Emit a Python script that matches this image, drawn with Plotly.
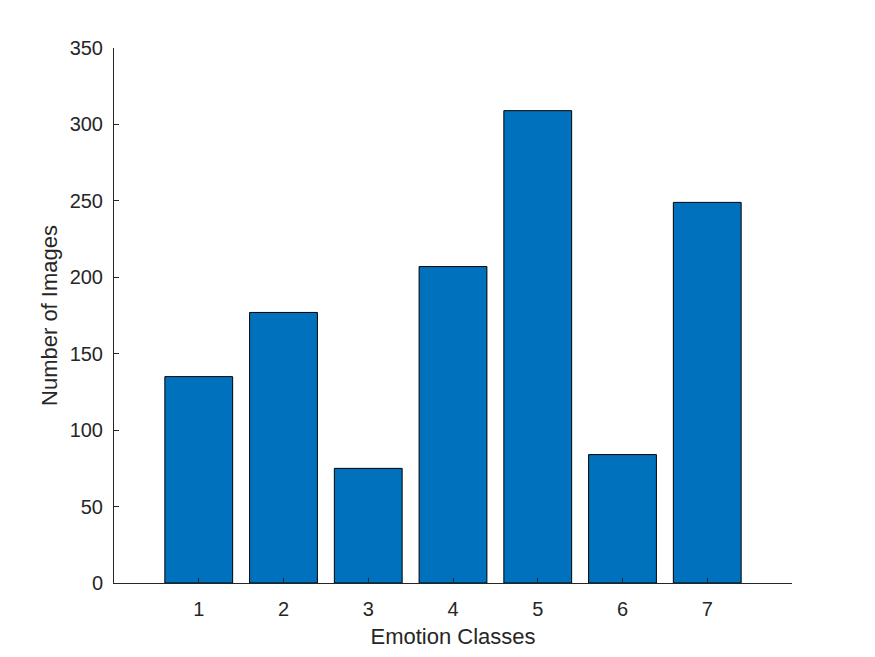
import plotly.graph_objects as go

classes = [1, 2, 3, 4, 5, 6, 7]
counts = [135, 177, 75, 207, 309, 84, 249]
y_ticks = [0, 50, 100, 150, 200, 250, 300, 350]

FONT = "Liberation Sans, Arial, sans-serif"

fig = go.Figure(go.Bar(
    x=classes, y=counts, width=0.8,
    marker=dict(color="#0072BD", line=dict(color="#000000", width=1)),
))

axis_common = dict(
    showgrid=False, zeroline=False, showline=True, linecolor="#262626", linewidth=1,
    ticks="inside", ticklen=5, tickcolor="#262626",
    tickfont=dict(family=FONT, size=20, color="#262626"),
)

fig.update_layout(
    width=875, height=657,
    margin=dict(l=114, r=83, t=48, b=74),
    plot_bgcolor="white", paper_bgcolor="white",
    showlegend=False,
    xaxis=dict(range=[0, 8], tickvals=classes, ticktext=[str(c) for c in classes],
               ticklabelstandoff=8,
               title=dict(text="Emotion Classes", standoff=9,
                          font=dict(family=FONT, size=22, color="#262626")),
               **axis_common),
    yaxis=dict(range=[0, 350], tickvals=y_ticks, ticktext=[str(v) for v in y_ticks],
               ticklabelstandoff=6,
               title=dict(text="Number of Images", standoff=5,
                          font=dict(family=FONT, size=22, color="#262626")),
               **axis_common),
)

fig.write_html("out.html")
